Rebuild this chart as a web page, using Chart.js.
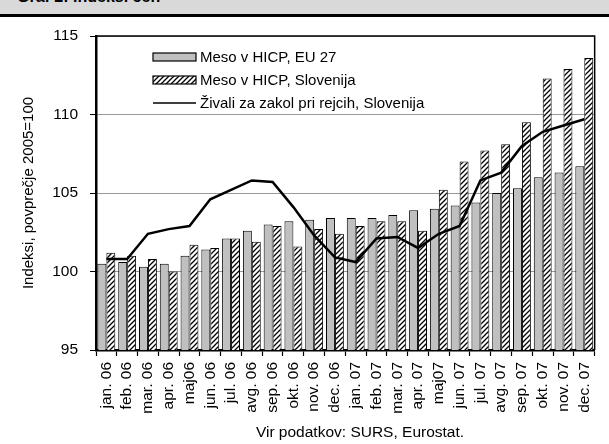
<!DOCTYPE html>
<html>
<head>
<meta charset="utf-8">
<script src="https://cdn.jsdelivr.net/npm/chart.js@4"></script>
<style>
  body { margin: 0; background: #fff; }
  #wrap { position: relative; width: 609px; height: 444px; }
  #head {
    position: absolute; left: 0; top: 0; width: 609px; height: 14px;
    background: #d9d9d9; border-bottom: 3px solid #000; overflow: hidden;
  }
  #head span {
    position: absolute; left: 17px; top: -12px;
    font: bold 16px "Liberation Sans", Arial, sans-serif; color: #000;
  }
  #src {
    position: absolute; left: 0; width: 720px; top: 423px; text-align: center;
    font: 15.5px "Liberation Sans", Arial, sans-serif; color: #000;
  }
  canvas { position: absolute; left: 0; top: 0; }
</style>
</head>
<body>
<div id="wrap">
  <canvas id="chart" width="609" height="444"></canvas>
  <div id="head"><span>Graf 2: Indeksi cen</span></div>
  <div id="src">Vir podatkov: SURS, Eurostat.</div>
</div>
<script>
const months = [
  "jan. 06", "feb. 06", "mar. 06", "apr. 06", "maj06", "jun. 06",
  "jul. 06", "avg. 06", "sep. 06", "okt. 06", "nov. 06", "dec. 06",
  "jan. 07", "feb. 07", "mar. 07", "apr. 07", "maj07", "jun. 07",
  "jul. 07", "avg. 07", "sep. 07", "okt. 07", "nov. 07", "dec. 07",
];

const mesoEU = [
  100.5, 100.6, 100.3, 100.5, 101.0, 101.4, 102.1, 102.6, 103.0, 103.2, 103.3, 103.4,
  103.4, 103.4, 103.6, 103.9, 104.0, 104.2, 104.4, 105.0, 105.3, 106.0, 106.3, 106.7,
];
const mesoSLO = [
  101.2, 101.0, 100.8, 100.0, 101.7, 101.5, 102.1, 101.9, 102.9, 101.6, 102.7, 102.4,
  102.9, 103.2, 103.2, 102.6, 105.2, 107.0, 107.7, 108.1, 109.5, 112.3, 112.9, 113.6,
];
const zivali = [
  100.8, 100.8, 102.4, 102.7, 102.9, 104.6, 105.2, 105.8, 105.7, 104.1, 102.3, 100.9,
  100.6, 102.1, 102.2, 101.5, 102.4, 102.9, 105.8, 106.3, 108.0, 108.9, 109.3, 109.7,
];

const yTicks = [95, 100, 105, 110, 115];
const FONT = "Liberation Sans, Arial, sans-serif";

// hatched fill ////
function makeHatch() {
  const c = document.createElement("canvas");
  c.width = 5;
  c.height = 5;
  const g = c.getContext("2d");
  g.fillStyle = "#fff";
  g.fillRect(0, 0, 5, 5);
  g.strokeStyle = "#000";
  g.lineWidth = 1.3;
  g.beginPath();
  g.moveTo(-1, 6); g.lineTo(6, -1);
  g.moveTo(-1, 1); g.lineTo(1, -1);
  g.moveTo(4, 6); g.lineTo(6, 4);
  g.stroke();
  return g.createPattern(c, "repeat");
}
const ctx = document.getElementById("chart").getContext("2d");
const hatch = makeHatch();

// legend inside the plot + frame
const boxPlugin = {
  id: "boxPlugin",
  afterDraw(chart) {
    const { ctx, chartArea: a } = chart;
    ctx.save();
    ctx.strokeStyle = "#000";
    ctx.lineWidth = 1.5;
    ctx.beginPath();
    ctx.moveTo(a.left, a.top);
    ctx.lineTo(a.right, a.top);
    ctx.lineTo(a.right, a.bottom);
    ctx.stroke();

    const x0 = 153, w = 43, rows = [57, 80, 103];
    ctx.font = "15px " + FONT;
    ctx.textBaseline = "middle";
    ctx.fillStyle = "#000";
    chart.data.datasets.forEach((ds, i) => {
      const y = rows[i];
      if (ds.type === "line") {
        ctx.strokeStyle = "#000";
        ctx.lineWidth = 1.5;
        ctx.beginPath();
        ctx.moveTo(x0, y);
        ctx.lineTo(x0 + w, y);
        ctx.stroke();
      } else {
        ctx.fillStyle = ds.backgroundColor;
        ctx.fillRect(x0, y - 4, w, 8);
        ctx.strokeStyle = "#000";
        ctx.lineWidth = 1.2;
        ctx.strokeRect(x0, y - 4, w, 8);
      }
      ctx.fillStyle = "#000";
      ctx.fillText(ds.label, x0 + w + 4, y + 1);
    });
    ctx.restore();
  },
};

new Chart(ctx, {
  data: {
    labels: months,
    datasets: [
      {
        type: "bar",
        label: "Meso v HICP, EU 27",
        data: mesoEU,
        backgroundColor: "#c0c0c0",
        borderColor: "#000",
        borderWidth: 1,
        order: 1,
      },
      {
        type: "bar",
        label: "Meso v HICP, Slovenija",
        data: mesoSLO,
        backgroundColor: hatch,
        borderColor: "#000",
        borderWidth: 1,
        order: 1,
      },
      {
        type: "line",
        label: "Živali za zakol pri rejcih, Slovenija",
        data: zivali,
        borderColor: "#000",
        borderWidth: 2.5,
        pointRadius: 0,
        tension: 0,
        order: 0,
      },
    ],
  },
  options: {
    responsive: false,
    animation: false,
    layout: { padding: { top: 36, right: 6, left: 0, bottom: 0 } },
    datasets: { bar: { barPercentage: 1, categoryPercentage: 0.86 } },
    plugins: { legend: { display: false }, tooltip: { enabled: false } },
    scales: {
      x: {
        afterFit: (s) => { s.height = 94; },
        grid: {
          offset: true,
          drawOnChartArea: false,
          tickLength: 6,
          tickColor: "#000",
          tickWidth: 1.2,
        },
        border: { color: "#000", width: 2.5 },
        ticks: {
          color: "#000",
          font: { family: FONT, size: 15.5 },
          minRotation: 90,
          maxRotation: 90,
          padding: 6,
          autoSkip: false,
        },
      },
      y: {
        min: 95,
        max: 115,
        afterFit: (s) => { s.width = 96; },
        afterBuildTicks: (s) => { s.ticks = yTicks.map((v) => ({ value: v })); },
        grid: { color: "#999", tickColor: "#000", tickLength: 6, lineWidth: 1 },
        border: { color: "#000", width: 2.5 },
        ticks: { color: "#000", font: { family: FONT, size: 15.5 }, padding: 12 },
        title: {
          display: true,
          text: "Indeksi, povprečje 2005=100",
          color: "#000",
          font: { family: FONT, size: 15 },
          padding: { top: 20, bottom: 0 },
        },
      },
    },
  },
  plugins: [boxPlugin],
});
</script>
</body>
</html>
